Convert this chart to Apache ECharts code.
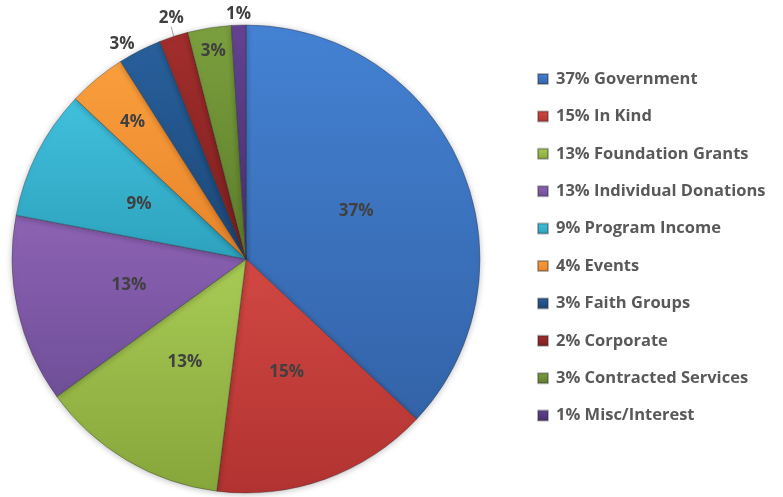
<!DOCTYPE html>
<html>
<head>
<meta charset="utf-8">
<script src="https://cdn.jsdelivr.net/npm/echarts@6/dist/echarts.min.js"></script>
<style>
  html, body { margin: 0; padding: 0; background: #fff; }
  #main { width: 783px; height: 497px; }
</style>
</head>
<body>
<div id="main"></div>
<script>
// funding sources, in drawing order (clockwise from 12 o'clock)
var categories = ['Government', 'In Kind', 'Foundation Grants', 'Individual Donations', 'Program Income',
  'Events', 'Faith Groups', 'Corporate', 'Contracted Services', 'Misc/Interest'];
var shares = [37, 15, 13, 13, 9, 4, 3, 2, 3, 1];
var topColors = ['#4482d3', '#d24843', '#a8cb55', '#8d62b4', '#41c0dc', '#fa9f3d', '#28609c', '#a22e2c', '#7ba03e', '#644392'];
var bottomColors = ['#3363a8', '#b13331', '#87a63b', '#6f4f98', '#2da2be', '#e7842a', '#1c4676', '#7c1f1f', '#5c7c2a', '#472e6d'];

var chart = echarts.init(document.getElementById('main'));

var labelFont = { fontFamily: 'Open Sans', fontWeight: 'bold', fontSize: 17, color: '#404040' };

// labels sitting centred above the end of their (short) leader
var aboveLeader = { 'Corporate': 2, 'Misc/Interest': 0 };

var data = categories.map(function (name, i) {
  var item = {
    name: name,
    value: shares[i],
    itemStyle: {
      color: new echarts.graphic.LinearGradient(0, 0, 0, 1, [
        { offset: 0, color: topColors[i] },
        { offset: 1, color: bottomColors[i] }
      ])
    }
  };
  // small slices near the top: labels pushed out
  if (name === 'Events') {
    item.label = { position: 'inside', offset: [-37, -44] };
  } else if (name === 'Contracted Services') {
    item.label = { position: 'inside', offset: [-14, -89] };
  } else if (name === 'Faith Groups') {
    item.label = { position: 'outside', distanceToLabelLine: 2 };
    item.labelLine = { show: false, length: 7, length2: 0 };
  } else if (name === 'Misc/Interest') {
    item.label = { position: 'outside', distanceToLabelLine: 0 };
    item.labelLine = { show: false, length: 2, length2: 0 };
  } else if (name === 'Corporate') {
    item.label = { position: 'outside', distanceToLabelLine: 0 };
    item.labelLine = { show: true, length: 8, length2: 0, lineStyle: { color: '#a6a6a6', width: 1 } };
  }
  return item;
});

var option = {
  backgroundColor: '#fff',
  animation: false,
  legend: {
    orient: 'vertical',
    left: 532,
    top: 64,
    icon: 'rect',
    itemWidth: 10,
    itemHeight: 10,
    itemGap: 17.4,
    data: categories,
    formatter: function (name) {
      return shares[categories.indexOf(name)] + '% ' + name;
    },
    textStyle: {
      fontFamily: 'Open Sans',
      fontWeight: 'bold',
      fontSize: 16.5,
      lineHeight: 20,
      padding: [0, 0, 0, 3],
      color: '#595959'
    }
  },
  series: [{
    type: 'pie',
    center: [246, 259],
    radius: [0, 234],
    startAngle: 90,
    clockwise: true,
    avoidLabelOverlap: false,
    itemStyle: {
      borderColor: 'rgba(40,40,40,0.35)',
      borderWidth: 1,
      shadowBlur: 6,
      shadowColor: 'rgba(0,0,0,0.25)',
      shadowOffsetY: 1
    },
    label: Object.assign({
      show: true,
      position: 'inside',
      formatter: '{c}%'
    }, labelFont),
    labelLine: { show: false },
    labelLayout: function (params) {
      var name = categories[params.dataIndex];
      if (!(name in aboveLeader) || !params.labelLinePoints) return;
      var end = params.labelLinePoints[params.labelLinePoints.length - 1];
      return {
        x: end[0],
        y: end[1] - aboveLeader[name],
        align: 'center',
        verticalAlign: 'bottom'
      };
    },
    emphasis: { disabled: true },
    data: data
  }]
};

chart.setOption(option);
</script>
</body>
</html>
